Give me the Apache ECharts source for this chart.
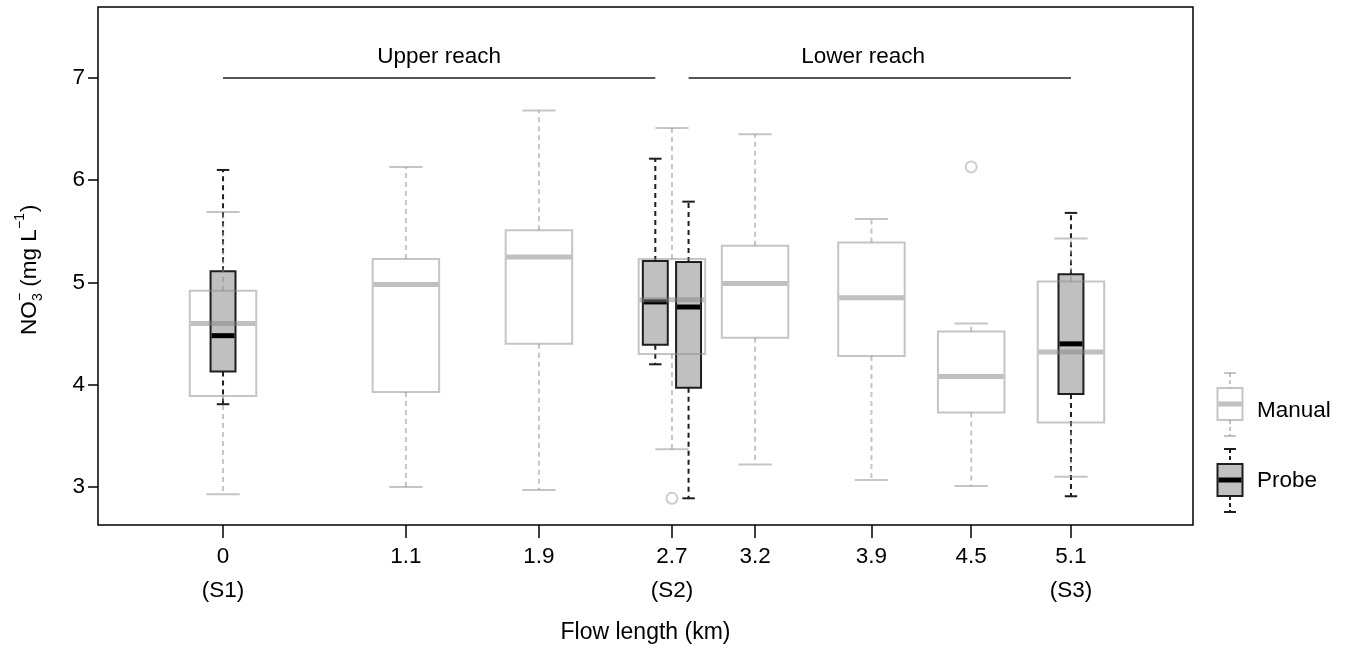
<!DOCTYPE html>
<html>
<head>
<meta charset="utf-8">
<script src="https://cdn.jsdelivr.net/npm/echarts@6/dist/echarts.min.js"></script>
<style>html,body{margin:0;padding:0;background:#fff}#c{width:1346px;height:649px}</style>
</head>
<body>
<div id="c"></div>
<script>
// ---- data ----
const xTicks = [0, 1.1, 1.9, 2.7, 3.2, 3.9, 4.5, 5.1];
const xTickLabels = ['0\n(S1)', '1.1', '1.9', '2.7\n(S2)', '3.2', '3.9', '4.5', '5.1\n(S3)'];
const yTicks = [3, 4, 5, 6, 7];

const manualKm   = [0, 1.1, 1.9, 2.7, 3.2, 3.9, 4.5, 5.1];
const manualLow  = [2.93, 3.00, 2.97, 3.37, 3.22, 3.07, 3.01, 3.10];
const manualQ1   = [3.89, 3.93, 4.40, 4.30, 4.46, 4.28, 3.73, 3.63];
const manualMed  = [4.60, 4.98, 5.25, 4.83, 4.99, 4.85, 4.08, 4.32];
const manualQ3   = [4.92, 5.23, 5.51, 5.23, 5.36, 5.39, 4.52, 5.01];
const manualHigh = [5.69, 6.13, 6.68, 6.51, 6.45, 5.62, 4.60, 5.43];
const manualOutKm  = [2.7, 4.5];
const manualOutVal = [2.89, 6.13];

const probeKm   = [0, 2.7, 2.7, 5.1];
const probeLow  = [3.81, 4.20, 2.89, 2.91];
const probeQ1   = [4.13, 4.39, 3.97, 3.91];
const probeMed  = [4.48, 4.81, 4.76, 4.40];
const probeQ3   = [5.11, 5.21, 5.20, 5.08];
const probeHigh = [6.10, 6.21, 5.79, 5.68];

const reachNames   = ['Upper reach', 'Lower reach'];
const reachStartKm = [0, 2.8];
const reachEndKm   = [2.6, 5.1];
const reachLabelKm = [1.3, 3.85];
const reachLevel   = 7;

const legendNames = ['Manual', 'Probe'];

// ---- layout / styles ----
const FONT = 'Liberation Sans, Arial, sans-serif';
const FS = 22.5;
const probeDodge = [0, -0.1, 0.1, 0];
const manualStyle = { width: 0.4, fill: 'rgba(0,0,0,0)', stroke: 'rgba(140,140,140,0.5)', whisker: 'rgba(140,140,140,0.5)', median: 'rgba(130,130,130,0.5)', lw: 2, medW: 5 };
const probeStyle  = { width: 0.15, fill: '#c0c0c0', stroke: '#1e1e1e', whisker: '#1e1e1e', median: '#000', lw: 2, medW: 5 };

function boxRenderer(st) {
  return function (params, api) {
    const x = api.value(0);
    const lo = api.coord([x, api.value(1)]);
    const q1 = api.coord([x, api.value(2)]);
    const md = api.coord([x, api.value(3)]);
    const q3 = api.coord([x, api.value(4)]);
    const hi = api.coord([x, api.value(5)]);
    const w = api.size([st.width, 0])[0];
    const cx = md[0], half = w / 2, cap = w / 4;
    const dash = { stroke: st.whisker, lineWidth: st.lw, lineDash: [5, 4] };
    const solid = { stroke: st.whisker, lineWidth: st.lw };
    return {
      type: 'group',
      children: [
        { type: 'line', shape: { x1: cx, y1: q3[1], x2: cx, y2: hi[1] }, style: dash },
        { type: 'line', shape: { x1: cx, y1: q1[1], x2: cx, y2: lo[1] }, style: dash },
        { type: 'line', shape: { x1: cx - cap, y1: hi[1], x2: cx + cap, y2: hi[1] }, style: solid },
        { type: 'line', shape: { x1: cx - cap, y1: lo[1], x2: cx + cap, y2: lo[1] }, style: solid },
        { type: 'rect', shape: { x: cx - half, y: q3[1], width: w, height: q1[1] - q3[1] }, style: { fill: st.fill, stroke: st.stroke, lineWidth: st.lw } },
        { type: 'line', shape: { x1: cx - half + 1, y1: md[1], x2: cx + half - 1, y2: md[1] }, style: { stroke: st.median, lineWidth: st.medW } }
      ]
    };
  };
}

const manualData = manualKm.map((k, i) => [k, manualLow[i], manualQ1[i], manualMed[i], manualQ3[i], manualHigh[i]]);
const probeData = probeKm.map((k, i) => [k + probeDodge[i], probeLow[i], probeQ1[i], probeMed[i], probeQ3[i], probeHigh[i]]);
const outData = manualOutKm.map((k, i) => [k, manualOutVal[i]]);
const reachData = reachNames.map((n, i) => [reachStartKm[i], reachEndKm[i], reachLabelKm[i], reachLevel]);

// legend graphics
function legendGlyph(i, st, label) {
  const cx = 1230, top = i === 0 ? 373 : 449;
  const capT = top, boxT = top + 15, boxB = top + 47, capB = top + 63, med = top + 31;
  return [
    { type: 'line', shape: { x1: cx, y1: capT, x2: cx, y2: boxT }, style: { stroke: st.whisker, lineWidth: 2, lineDash: [4, 3] } },
    { type: 'line', shape: { x1: cx, y1: boxB, x2: cx, y2: capB }, style: { stroke: st.whisker, lineWidth: 2, lineDash: [4, 3] } },
    { type: 'line', shape: { x1: cx - 6, y1: capT, x2: cx + 6, y2: capT }, style: { stroke: st.whisker, lineWidth: 2 } },
    { type: 'line', shape: { x1: cx - 6, y1: capB, x2: cx + 6, y2: capB }, style: { stroke: st.whisker, lineWidth: 2 } },
    { type: 'rect', shape: { x: cx - 12.5, y: boxT, width: 25, height: boxB - boxT }, style: { fill: i === 0 ? '#fff' : st.fill, stroke: st.stroke, lineWidth: 2 } },
    { type: 'line', shape: { x1: cx - 11.5, y1: med, x2: cx + 11.5, y2: med }, style: { stroke: st.median, lineWidth: 5 } },
    { type: 'text', x: 1257, y: i === 0 ? 411 : 481, style: { text: label, font: FS + 'px ' + FONT, fill: '#000', textAlign: 'left', textVerticalAlign: 'middle' } }
  ];
}

const yTitle = {
  type: 'group', x: 30, y: 268, rotation: Math.PI / 2,
  children: [
    { type: 'text', x: -67, y: 0, style: { text: 'NO', font: FS + 'px ' + FONT, fill: '#000', textAlign: 'left', textVerticalAlign: 'middle' } },
    { type: 'text', x: -33, y: 8, style: { text: '3', font: '14px ' + FONT, fill: '#000', textAlign: 'left', textVerticalAlign: 'middle' } },
    { type: 'text', x: -33, y: -10, style: { text: '\u2212', font: '14px ' + FONT, fill: '#000', textAlign: 'left', textVerticalAlign: 'middle' } },
    { type: 'text', x: -25, y: 0, style: { text: ' (mg L', font: FS + 'px ' + FONT, fill: '#000', textAlign: 'left', textVerticalAlign: 'middle' } },
    { type: 'text', x: 39, y: -10, style: { text: '\u22121', font: '14px ' + FONT, fill: '#000', textAlign: 'left', textVerticalAlign: 'middle' } },
    { type: 'text', x: 56, y: 0, style: { text: ')', font: FS + 'px ' + FONT, fill: '#000', textAlign: 'left', textVerticalAlign: 'middle' } }
  ]
};

const chart = echarts.init(document.getElementById('c'), null, { renderer: 'canvas' });
chart.setOption({
  animation: false,
  backgroundColor: '#fff',
  grid: { left: 98, top: 7, right: 153, bottom: 123, show: true, borderColor: '#000', borderWidth: 1.5, backgroundColor: 'transparent' },
  xAxis: {
    type: 'value', min: -0.752, max: 5.834,
    axisLine: { show: false, onZero: false },
    splitLine: { show: false },
    axisTick: { show: true, length: 13, customValues: xTicks, lineStyle: { color: '#000', width: 1.5 } },
    axisLabel: {
      customValues: xTicks, margin: 15, lineHeight: 34,
      fontSize: FS, fontFamily: FONT, color: '#000',
      formatter: v => { const i = xTicks.findIndex(t => Math.abs(t - v) < 1e-9); return i >= 0 ? xTickLabels[i] : ''; }
    },
    name: 'Flow length (km)', nameLocation: 'middle', nameGap: 96,
    nameTextStyle: { fontSize: 23, fontFamily: FONT, color: '#000', verticalAlign: 'top' }
  },
  yAxis: {
    type: 'value', min: 2.629, max: 7.693,
    axisLine: { show: false, onZero: false },
    splitLine: { show: false },
    axisTick: { show: true, length: 10, customValues: yTicks, lineStyle: { color: '#000', width: 1.5 } },
    axisLabel: { customValues: yTicks, margin: 13, fontSize: FS, fontFamily: FONT, color: '#000' }
  },
  graphic: [yTitle].concat(legendGlyph(0, manualStyle, legendNames[0]), legendGlyph(1, probeStyle, legendNames[1])),
  series: [
    {
      type: 'custom', name: 'Reach', clip: false, z: 3,
      data: reachData,
      encode: { x: [0, 1], y: 3 },
      renderItem: function (params, api) {
        const a = api.coord([api.value(0), api.value(3)]);
        const b = api.coord([api.value(1), api.value(3)]);
        const t = api.coord([api.value(2), api.value(3)]);
        return {
          type: 'group', children: [
            { type: 'line', shape: { x1: a[0], y1: a[1], x2: b[0], y2: b[1] }, style: { stroke: '#1e1e1e', lineWidth: 1.5 } },
            { type: 'text', x: t[0], y: t[1] - 21, style: { text: reachNames[params.dataIndex], font: FS + 'px ' + FONT, fill: '#000', textAlign: 'center', textVerticalAlign: 'middle' } }
          ]
        };
      }
    },
    {
      type: 'custom', name: 'Probe', clip: false, z: 4,
      data: probeData, encode: { x: 0, y: [1, 2, 3, 4, 5] },
      renderItem: boxRenderer(probeStyle)
    },
    {
      type: 'custom', name: 'Manual', clip: false, z: 5,
      data: manualData, encode: { x: 0, y: [1, 2, 3, 4, 5] },
      renderItem: boxRenderer(manualStyle)
    },
    {
      type: 'scatter', name: 'Manual outliers', z: 6,
      data: outData, symbol: 'emptyCircle', symbolSize: 11,
      itemStyle: { color: '#c2c2c2', borderWidth: 1.5 }
    }
  ]
});
</script>
</body>
</html>
